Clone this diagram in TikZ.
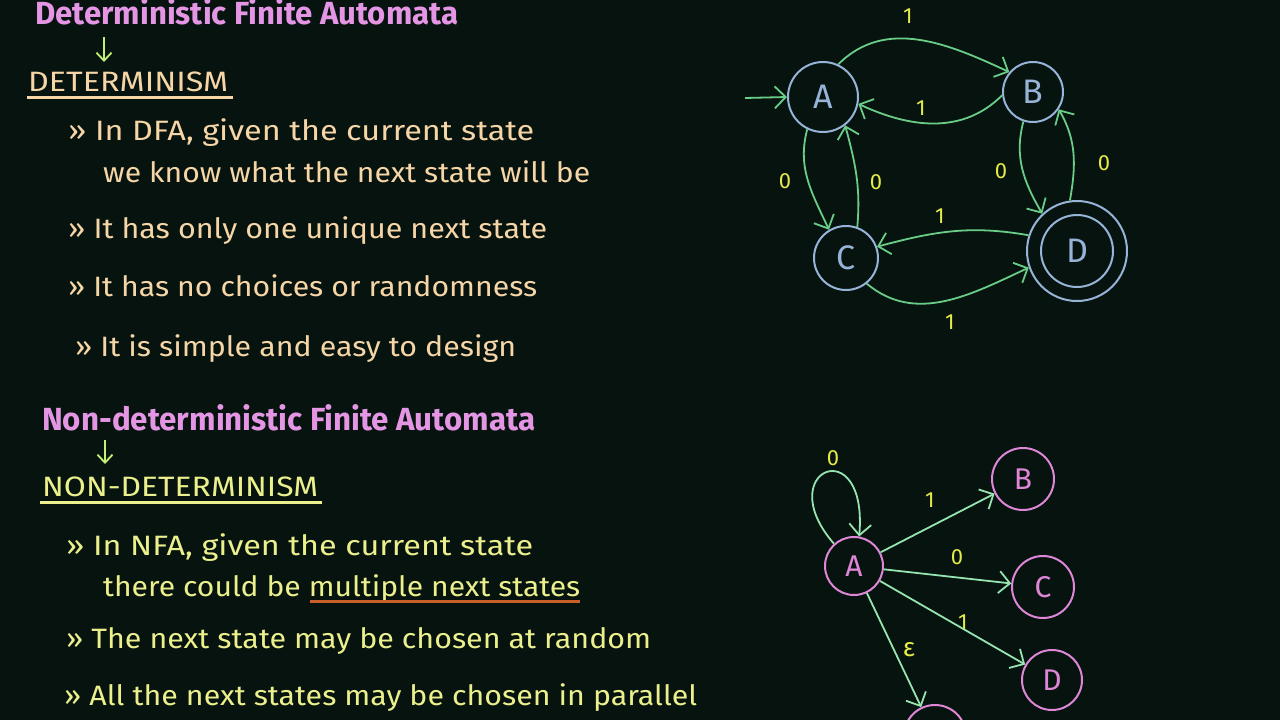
\documentclass[tikz,border=0pt]{standalone}
\usepackage{fontspec}
\setmainfont{Fira Sans}
\usepackage{graphicx}
\usetikzlibrary{arrows.meta}
\definecolor{bg}{RGB}{7,19,15}
\definecolor{pinktxt}{RGB}{228,150,228}
\definecolor{peach}{RGB}{246,214,166}
\definecolor{ytxt}{RGB}{236,240,140}
\definecolor{arrowg}{RGB}{196,240,120}
\definecolor{ulorange}{RGB}{200,95,40}
\definecolor{dgreen}{RGB}{105,205,135}
\definecolor{ngreen}{RGB}{150,228,175}
\definecolor{dcirc}{RGB}{150,180,215}
\definecolor{ncirc}{RGB}{222,135,215}
\definecolor{lbly}{RGB}{228,234,70}
\newcommand{\fitw}[2]{\resizebox{#1}{\height}{#2}}
\begin{document}
\begin{tikzpicture}[x=1pt,y=1pt,
  txt/.style={anchor=base west, inner sep=0pt, font=\fontsize{28}{30}\selectfont},
  ttl/.style={anchor=base west, inner sep=0pt, text=pinktxt, font=\bfseries\fontsize{32}{34}\selectfont},
  dstate/.style={circle, draw=dcirc, line width=2pt, text=dcirc, inner sep=0pt, font=\fontsize{34}{34}\selectfont},
  nstate/.style={circle, draw=ncirc, line width=2pt, text=ncirc, inner sep=0pt, font=\fontsize{30}{30}\selectfont},
  dedge/.style={draw=dgreen, line width=1.8pt, -{Straight Barb[length=11pt,width=22pt,line width=1.8pt]}},
  nedge/.style={draw=ngreen, line width=1.8pt, -{Straight Barb[length=11pt,width=22pt,line width=1.8pt]}},
  lbl/.style={text=lbly, inner sep=0pt, font=\fontsize{22}{22}\selectfont},
  darr/.style={draw=arrowg, line width=1.8pt, -{Straight Barb[length=8pt,width=15pt,line width=1.8pt]}}]
\fill[bg] (0,0) rectangle (1280,-720);
\useasboundingbox (0,0) rectangle (1280,-720);
\clip (0,0) rectangle (1280,-720);

% ---------- DFA text ----------
\node[ttl] (t1) at (35,-24) {\fitw{423pt}{Deterministic Finite Automata}};
\coordinate (a1s) at (104,-37);
\coordinate (a1e) at (104,-62);
\draw[darr] (a1s) -- (a1e);
\node[txt, text=peach] (h1) at (28,-91) {\fitw{200pt}{DETERMINISM}};
\coordinate (u1s) at (27,-97);
\coordinate (u1e) at (233,-97);
\draw[peach, line width=3pt] (u1s) -- (u1e);
\node[txt, text=peach] (b1) at (68,-140) {\fitw{466pt}{» In DFA, given the current state}};
\node[txt, text=peach] (b1b) at (103,-182) {\fitw{487pt}{we know what the next state will be}};
\node[txt, text=peach] (b2) at (68,-238) {\fitw{479pt}{» It has only one unique next state}};
\node[txt, text=peach] (b3) at (68,-296) {\fitw{469pt}{» It has no choices or randomness}};
\node[txt, text=peach] (b4) at (75,-356) {\fitw{441pt}{» It is simple and easy to design}};

% ---------- NFA text ----------
\node[ttl] (t2) at (42,-430) {\fitw{493pt}{Non-deterministic Finite Automata}};
\coordinate (a2s) at (105,-440);
\coordinate (a2e) at (105,-464);
\draw[darr] (a2s) -- (a2e);
\node[txt, text=ytxt] (h2) at (42,-496) {\fitw{276pt}{NON-DETERMINISM}};
\coordinate (u2s) at (40,-502);
\coordinate (u2e) at (322,-502);
\draw[ytxt, line width=3pt] (u2s) -- (u2e);
\node[txt, text=ytxt] (c1) at (66,-555) {\fitw{467pt}{» In NFA, given the current state}};
\node[txt, text=ytxt] (c1b) at (103,-596) {\fitw{477pt}{there could be multiple next states}};
\coordinate (u3s) at (310,-601);
\coordinate (u3e) at (580,-601);
\draw[ulorange, line width=3pt] (u3s) -- (u3e);
\node[txt, text=ytxt] (c2) at (66,-648) {\fitw{585pt}{» The next state may be chosen at random}};
\node[txt, text=ytxt] (c3) at (64,-705) {\fitw{633pt}{» All the next states may be chosen in parallel}};

% ---------- DFA graph ----------
\node[dstate, minimum size=70pt] (dA) at (823,-97) {A};
\node[dstate, minimum size=60pt] (dB) at (1033,-92) {B};
\node[dstate, minimum size=64pt] (dC) at (846,-258) {C};
\node[dstate, minimum size=100pt] (dD) at (1077,-251) {};
\node[dstate, minimum size=72pt] (dDi) at (1077,-251) {D};
\coordinate (dstart) at (745,-98);
\draw[dedge] (dstart) -- (dA.west);
\draw[dedge] (dA.65) to[out=45,in=155] (dB.140);
\draw[dedge] (dB.186) to[out=225,in=-25] (dA.-11);
\draw[dedge] (dA.244) to[out=255,in=115] (dC.121);
\draw[dedge] (dC.70) to[out=85,in=-75] (dA.-52);
\draw[dedge] (dB.252) to[out=255,in=120] (dD.133);
\draw[dedge] (dD.98) to[out=80,in=-60] (dB.-34);
\draw[dedge] (dD.162) to[out=170,in=15] (dC.20);
\draw[dedge] (dC.-51) to[out=-40,in=205] (dD.199);
\node[lbl] (l1) at (908,-16) {1};
\node[lbl] (l2) at (921,-108) {1};
\node[lbl] (l3) at (785,-181) {0};
\node[lbl] (l4) at (876,-182) {0};
\node[lbl] (l5) at (1001,-171) {0};
\node[lbl] (l6) at (1104,-163) {0};
\node[lbl] (l7) at (940,-216) {1};
\node[lbl] (l8) at (950,-322) {1};

% ---------- NFA graph ----------
\node[nstate, minimum size=58pt] (nA) at (854,-566) {A};
\node[nstate, minimum size=62pt] (nB) at (1023,-479) {B};
\node[nstate, minimum size=62pt] (nC) at (1043,-587) {C};
\node[nstate, minimum size=60pt] (nD) at (1052,-680) {D};
\node[nstate, minimum size=62pt] (nE) at (935,-736) {};
\draw[nedge] (nA.132) .. controls (770,-470) and (868,-430) .. (nA.80);
\draw[nedge] (nA) -- (nB);
\draw[nedge] (nA) -- (nC);
\draw[nedge] (nA) -- (nD);
\draw[nedge] (nA) -- (nE);
\node[lbl] (m1) at (833,-458) {0};
\node[lbl] (m2) at (930,-500) {1};
\node[lbl] (m3) at (957,-557) {0};
\node[lbl] (m4) at (963,-622) {1};
\node[lbl, font=\fontsize{26}{26}\selectfont] (m5) at (909,-650) {ε};
\end{tikzpicture}
\end{document}
